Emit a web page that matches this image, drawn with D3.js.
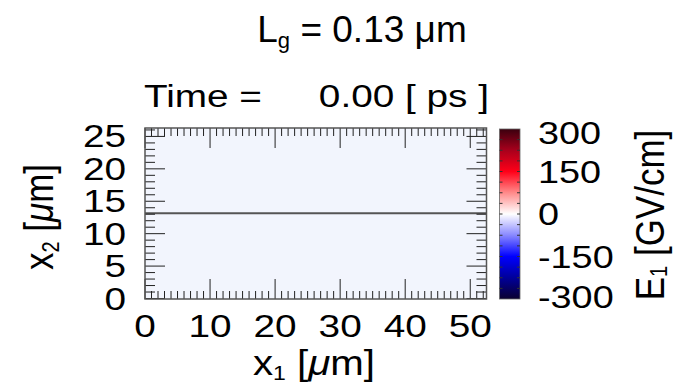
<!DOCTYPE html>
<html lang="en">
<head>
<meta charset="UTF-8">
<title>E1 field snapshot</title>
<script src="https://d3js.org/d3.v7.min.js"></script>
<style>
  body { margin: 0; background: #fff; }
  text { font-family: "Liberation Sans", Arial, sans-serif; fill: #000; }
</style>
</head>
<body>
<svg width="673" height="384"></svg>
<script>
// data
var xTicks = [0, 10, 20, 30, 40, 50];
var yTicks = [0, 5, 10, 15, 20, 25];
var cbTicks = [300, 150, 0, -150, -300];
var xDomain = [0, 52.5];
var yDomain = [0, 26.3];
var gateLine = [13.15];          // the horizontal line across the domain
var fieldValue = -4;             // E1 everywhere at t = 0 (close to zero)
var cmapValues = [-300, -225, -150, -75, 0, 75, 150, 225, 300];
var cmapColors = ["#0b0030", "#00009a", "#0000ff", "#8888ff", "#ffffff", "#ff8a8a", "#ff0018", "#a8001c", "#3a000e"];

var svg = d3.select("svg");

// plot area
var pLeft = 145, pRight = 486.5, pTop = 128, pBottom = 299;
var x = d3.scaleLinear().domain(xDomain).range([pLeft, pRight]);
var y = d3.scaleLinear().domain(yDomain).range([pBottom - 0.5, pTop]);
var color = d3.scaleLinear().domain(cmapValues).range(cmapColors);

// helper: text stretched a little wider, like the original raster
function label(g, txt, px, py, size, anchor, sx) {
    var t = g.append("text")
        .attr("transform", "translate(" + px + "," + py + ") scale(" + sx + ",1)")
        .attr("font-size", size)
        .attr("text-anchor", anchor);
    return t.text(txt);
}

// title
var title = svg.append("text")
    .attr("x", 362).attr("y", 42)
    .attr("text-anchor", "middle")
    .attr("font-family", "Lato, 'Open Sans', sans-serif")
    .attr("font-size", 37);
title.append("tspan").text("L");
title.append("tspan").attr("font-size", 22).attr("dy", 6).text("g");
title.append("tspan").attr("dy", -6).text(" = 0.13 \u03bcm");

// time label
label(svg, "Time =", 262, 107, 31, "end", 1.25);
label(svg, "0.00 [ ps ]", 489, 107, 31, "end", 1.25);

// field
svg.append("rect")
    .attr("x", pLeft).attr("y", pTop)
    .attr("width", pRight - pLeft).attr("height", pBottom - pTop)
    .attr("fill", d3.interpolateRgb(color(fieldValue), "#e8f0fb")(0.4));

svg.selectAll(".gline").data(gateLine).enter().append("line")
    .attr("x1", pLeft).attr("x2", pRight)
    .attr("y1", function(d) { return y(d); }).attr("y2", function(d) { return y(d); })
    .attr("stroke", "#555").attr("stroke-width", 1.8);

// ticks, IDL style on all four sides
var tickG = svg.append("g").attr("stroke", "#222").attr("stroke-width", 1);
var xMinor = d3.range(0, 53, 1);
var yMinor = d3.range(0, 27, 1);
xMinor.forEach(function(v) {
    var len = v % 10 === 0 ? 20 : 8;
    tickG.append("line").attr("x1", x(v)).attr("x2", x(v)).attr("y1", pBottom).attr("y2", pBottom - len);
    tickG.append("line").attr("x1", x(v)).attr("x2", x(v)).attr("y1", pTop).attr("y2", pTop + len);
});
yMinor.forEach(function(v) {
    var len = v % 5 === 0 ? 20 : 10;
    tickG.append("line").attr("y1", y(v)).attr("y2", y(v)).attr("x1", pLeft).attr("x2", pLeft + len);
    tickG.append("line").attr("y1", y(v)).attr("y2", y(v)).attr("x1", pRight).attr("x2", pRight - len);
});

svg.append("rect")
    .attr("x", pLeft).attr("y", pTop)
    .attr("width", pRight - pLeft).attr("height", pBottom - pTop)
    .attr("fill", "none").attr("stroke", "#555").attr("stroke-width", 1.5);

// tick labels
xTicks.forEach(function(v) {
    label(svg, v, x(v), 337, 31, "middle", 1.25);
});
yTicks.forEach(function(v) {
    label(svg, v, 126, y(v) + 11, 31, "end", 1.25);
});

// axis titles
var xt = svg.append("text")
    .attr("transform", "translate(314,375) scale(1.15,1)")
    .attr("text-anchor", "middle").attr("font-size", 35);
xt.append("tspan").text("x");
xt.append("tspan").attr("font-size", 20).attr("dy", 5).text("1");
xt.append("tspan").attr("dy", -5).text(" [");
xt.append("tspan").attr("font-style", "italic").text("\u03bc");
xt.append("tspan").text("m]");

var yt = svg.append("text")
    .attr("transform", "translate(53,217) rotate(-90) scale(1,1.15)")
    .attr("text-anchor", "middle").attr("font-size", 35);
yt.append("tspan").text("x");
yt.append("tspan").attr("font-size", 20).attr("dy", 5).text("2");
yt.append("tspan").attr("dy", -5).text(" [");
yt.append("tspan").attr("font-style", "italic").text("\u03bc");
yt.append("tspan").text("m]");

// colour bar
var cbLeft = 499.5, cbRight = 520, cbTop = 129, cbBottom = 299;
var cy = d3.scaleLinear().domain([-300, 300]).range([cbBottom, cbTop]);
var defs = svg.append("defs");
var grad = defs.append("linearGradient").attr("id", "cmap")
    .attr("x1", 0).attr("y1", 1).attr("x2", 0).attr("y2", 0);
cmapValues.forEach(function(v, i) {
    grad.append("stop").attr("offset", (v + 300) / 600).attr("stop-color", cmapColors[i]);
});
svg.append("rect")
    .attr("x", cbLeft).attr("y", cbTop)
    .attr("width", cbRight - cbLeft).attr("height", cbBottom - cbTop)
    .attr("fill", "url(#cmap)").attr("stroke", "#666").attr("stroke-width", 0.8);

var cbMinor = d3.range(-262.5, 300, 37.5);
var cbG = svg.append("g").attr("stroke", "#333").attr("stroke-width", 1);
cbMinor.forEach(function(v) {
    cbG.append("line").attr("x1", cbLeft).attr("x2", cbLeft + 3).attr("y1", cy(v)).attr("y2", cy(v));
    cbG.append("line").attr("x1", cbRight).attr("x2", cbRight - 3).attr("y1", cy(v)).attr("y2", cy(v));
});

cbTicks.forEach(function(v) {
    var py = Math.min(Math.max(cy(v), 133), 297);
    label(svg, v, 538, py + 11, 31, "start", 1.22);
});

var et = svg.append("text")
    .attr("transform", "translate(664,215) rotate(-90) scale(1,1.15)")
    .attr("text-anchor", "middle").attr("font-size", 35);
et.append("tspan").text("E");
et.append("tspan").attr("font-size", 20).attr("dy", 3).text("1");
et.append("tspan").attr("dy", -3).text(" [GV/cm]");
</script>
</body>
</html>
